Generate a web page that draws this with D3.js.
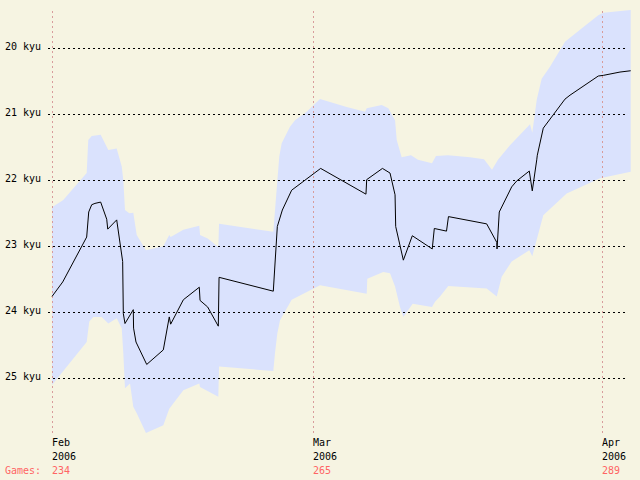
<!DOCTYPE html>
<html>
<head>
<meta charset="utf-8">
<script src="https://cdn.jsdelivr.net/npm/d3@7"></script>
<style>
  html, body { margin: 0; padding: 0; background: #f6f4e2; }
  svg { display: block; }
  text { font-family: "DejaVu Sans Mono", monospace; font-size: 10px; }
</style>
</head>
<body>
<svg id="chart" width="640" height="480"></svg>
<script>
// ---- data (days since 2006-02-01, rank in kyu) ----
const rankTicks = [20, 21, 22, 23, 24, 25];
const monthLabels = ["Feb", "Mar", "Apr"];
const yearLabels = ["2006", "2006", "2006"];
const monthDays = [0, 28, 59];
const gamesLabels = [234, 265, 289];

const lineDays = [0, 1.15, 3.72, 3.94, 4.26, 4.61, 5.22, 5.87, 5.98, 6.94, 7.58, 7.65, 7.83, 8.72, 8.75, 9.01, 10.16, 11.94, 12.58, 12.73, 14.09, 15.80, 15.88, 16.70, 17.84, 17.92, 23.74, 24.17, 24.71, 25.71, 28.82, 33.68, 33.76, 35.45, 36.26, 36.80, 36.87, 37.69, 38.65, 40.79, 41.01, 42.32, 42.53, 46.63, 47.71, 47.74, 47.98, 49.31, 49.85, 51.20, 51.52, 52.00, 52.06, 52.70, 55.03, 55.57, 58.60, 59.14, 60.93, 62.08];
const lineRank = [23.76, 23.54, 22.86, 22.48, 22.37, 22.35, 22.33, 22.59, 22.74, 22.60, 23.23, 24.02, 24.17, 23.96, 24.24, 24.45, 24.79, 24.57, 24.07, 24.18, 23.81, 23.62, 23.82, 23.92, 24.21, 23.47, 23.68, 22.70, 22.45, 22.15, 21.82, 22.21, 21.99, 21.82, 21.89, 22.22, 22.70, 23.21, 22.84, 23.04, 22.73, 22.77, 22.55, 22.66, 22.94, 23.04, 22.48, 22.10, 22.01, 21.86, 22.16, 21.69, 21.62, 21.21, 20.77, 20.71, 20.42, 20.41, 20.36, 20.34];

const upperDays = [0, 1.21, 3.72, 3.89, 4.26, 5.22, 6.04, 6.94, 7.48, 7.65, 7.83, 8.29, 8.72, 9.09, 10.08, 11.94, 12.58, 12.73, 14.09, 15.80, 15.88, 16.70, 17.84, 17.92, 23.74, 24.38, 24.64, 25.53, 26.07, 27.32, 28.75, 30.18, 31.61, 33.58, 33.76, 35.37, 36.08, 36.80, 36.98, 37.51, 38.51, 39.26, 40.76, 41.19, 42.48, 44.84, 46.34, 47.20, 47.84, 49.13, 51.28, 51.52, 52.00, 52.53, 53.42, 55.03, 56.64, 58.60, 59.14, 62.08];
const upperRank = [22.41, 22.30, 21.89, 21.39, 21.33, 21.31, 21.54, 21.52, 21.79, 22.00, 22.45, 22.50, 22.49, 22.83, 23.06, 23.00, 22.83, 22.86, 22.75, 22.69, 22.83, 22.88, 23.01, 22.66, 22.78, 21.64, 21.44, 21.19, 21.09, 20.96, 20.77, 20.83, 20.89, 20.96, 20.91, 20.86, 20.91, 21.09, 21.39, 21.65, 21.62, 21.69, 21.74, 21.63, 21.62, 21.65, 21.68, 21.84, 21.69, 21.47, 21.15, 21.28, 20.78, 20.46, 20.28, 19.90, 19.72, 19.50, 19.46, 19.42];

const lowerDays = [0, 3.72, 4.00, 4.43, 5.33, 6.04, 6.94, 7.48, 7.65, 7.83, 8.37, 8.72, 9.09, 10.08, 11.94, 12.58, 14.09, 15.80, 15.88, 17.84, 17.92, 23.74, 23.92, 24.17, 24.46, 25.71, 28.75, 33.76, 33.82, 35.54, 36.26, 36.80, 37.33, 37.69, 38.69, 40.76, 41.09, 41.62, 42.51, 46.63, 47.71, 48.24, 49.31, 51.20, 51.52, 52.70, 55.21, 58.79, 62.08];
const lowerRank = [25.10, 24.45, 24.14, 24.07, 24.07, 24.17, 24.09, 24.24, 24.62, 25.15, 25.08, 25.43, 25.53, 25.83, 25.71, 25.46, 25.18, 25.08, 25.13, 25.28, 24.82, 24.89, 24.62, 24.32, 24.12, 23.81, 23.59, 23.72, 23.49, 23.39, 23.41, 23.61, 23.92, 24.07, 23.87, 23.92, 23.84, 23.76, 23.60, 23.64, 23.76, 23.46, 23.23, 23.06, 23.15, 22.53, 22.20, 21.97, 21.87];

// ---- scales ----
const x = d3.scaleLinear().domain([0, 59]).range([52, 602]);
const y = d3.scaleLinear().domain([20, 25]).range([48.3, 378.3]);

const svg = d3.select("#chart");
svg.append("rect").attr("width", 640).attr("height", 480).attr("fill", "#f6f4e2");

// ---- band ----
const bandPts = upperDays.map((d, i) => [x(d), y(upperRank[i])])
  .concat(lowerDays.map((d, i) => [x(d), y(lowerRank[i])]).reverse());
svg.append("path")
  .attr("d", d3.line()(bandPts) + "Z")
  .attr("fill", "#dae2fd")
  .attr("stroke", "none");

// ---- month grid lines ----
svg.selectAll("line.vgrid").data(monthDays).enter().append("line")
  .attr("class", "vgrid")
  .attr("x1", d => Math.round(x(d)) + 0.5).attr("x2", d => Math.round(x(d)) + 0.5)
  .attr("y1", 11).attr("y2", 434)
  .attr("stroke", "#d89c9c").attr("stroke-width", 1)
  .attr("stroke-dasharray", "2,3");

// ---- rank grid lines ----
svg.selectAll("line.hgrid").data(rankTicks).enter().append("line")
  .attr("class", "hgrid")
  .attr("x1", 48).attr("x2", 627)
  .attr("y1", d => Math.round(y(d)) + 0.5).attr("y2", d => Math.round(y(d)) + 0.5)
  .attr("stroke", "#000").attr("stroke-width", 1)
  .attr("stroke-dasharray", "2,3");

svg.selectAll("text.rank").data(rankTicks).enter().append("text")
  .attr("class", "rank")
  .attr("x", 5).attr("y", d => Math.round(y(d)) + 2)
  .attr("fill", "#000")
  .text(d => d + " kyu");

// ---- rank line ----
svg.append("path")
  .attr("d", d3.line()(lineDays.map((d, i) => [x(d), y(lineRank[i])])))
  .attr("fill", "none")
  .attr("stroke", "#000")
  .attr("stroke-width", 1);

// ---- month labels ----
monthDays.forEach((d, i) => {
  svg.append("text").attr("x", Math.round(x(d))).attr("y", 446).attr("fill", "#000").text(monthLabels[i]);
  svg.append("text").attr("x", Math.round(x(d))).attr("y", 459.5).attr("fill", "#000").text(yearLabels[i]);
  svg.append("text").attr("x", Math.round(x(d))).attr("y", 473.5).attr("fill", "#ff6464").text(gamesLabels[i]);
});
svg.append("text").attr("x", 5).attr("y", 473.5).attr("fill", "#ff6464").text("Games:");
</script>
</body>
</html>
